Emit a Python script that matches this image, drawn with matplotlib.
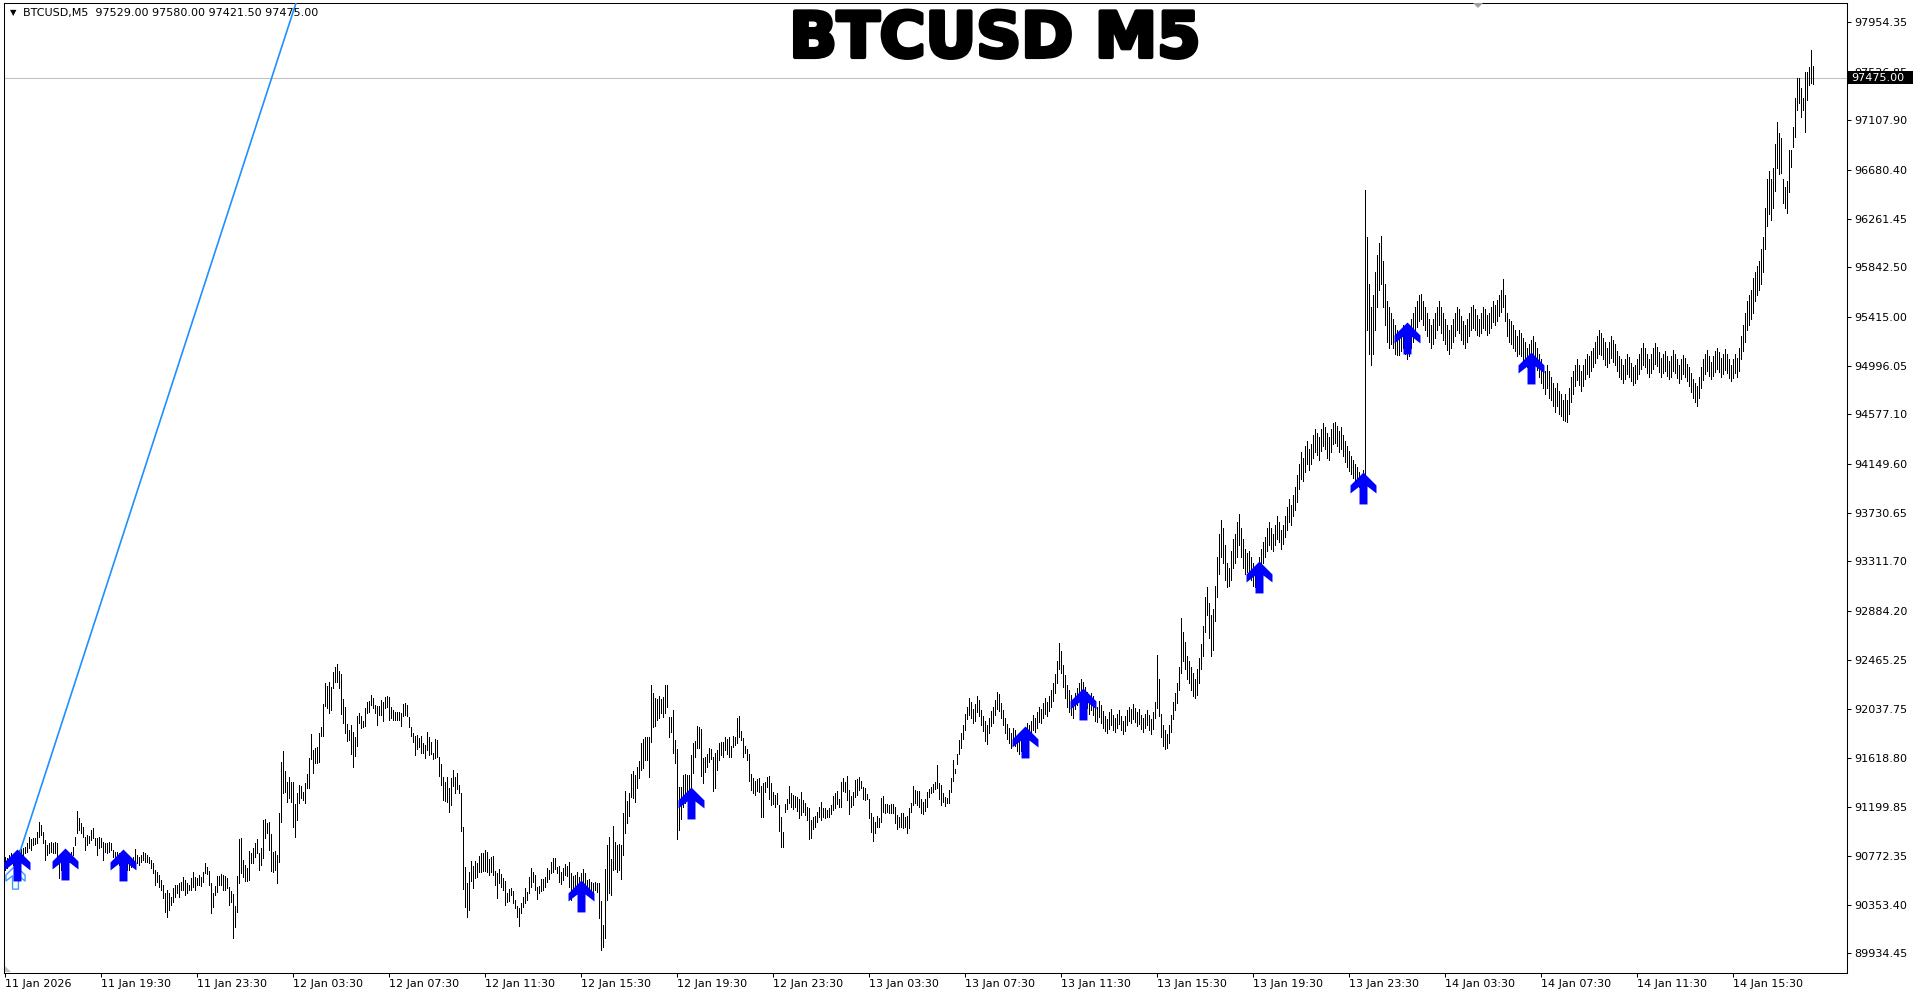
import numpy as np
import matplotlib.pyplot as plt
import matplotlib.transforms as mtransforms
import matplotlib.patheffects as pe
from matplotlib.path import Path
from matplotlib.patches import Rectangle, Polygon

# bar highs / lows (M5 bars)
high = [
    90768, 90754, 90782, 90797, 90782, 90797, 90811, 90825, 90831, 90840,
    90854, 90883, 90940, 90917, 90926, 90932, 90983, 91064, 91041, 90983,
    90912, 90868, 90883, 90897, 90889, 90897, 90883, 90782, 90797, 90797,
    90811, 90774, 90797, 90811, 90854, 90940, 91161, 91098, 91055, 91026,
    90940, 90955, 90946, 90998, 91012, 90926, 90926, 90940, 90926, 90897,
    90883, 90883, 90897, 90883, 90825, 90811, 90811, 90797, 90797, 90782,
    90782, 90768, 90739, 90754, 90768, 90831, 90782, 90768, 90782, 90811,
    90797, 90782, 90768, 90739, 90711, 90653, 90639, 90610, 90567, 90524,
    90452, 90481, 90452, 90424, 90495, 90524, 90524, 90538, 90553, 90596,
    90567, 90538, 90524, 90581, 90639, 90596, 90581, 90610,
    90590, 90639, 90711, 90682, 90648, 90538, 90452, 90516, 90602, 90602,
    90619, 90610, 90602, 90582, 90510, 90475, 90447, 90343, 90602, 90917,
    90926, 90739, 90696, 90668, 90820, 90803, 90840, 90889, 90917, 90803,
    90840, 91084, 91090, 91055, 91070, 90963, 90811, 90820, 90782, 91141,
    91586, 91681, 91509, 91414, 91451, 91414, 91414, 91222, 91313, 91385,
    91377, 91328, 91405, 91480, 91615, 91824, 91687, 91701, 91715, 91836,
    91882, 92083, 92266, 92238, 92275, 92226, 92361, 92404, 92427, 92370,
    92341, 92123, 92060, 91910, 91859, 91902, 91844, 91796, 91979, 92008,
    91979, 91939, 92045, 92103, 92111, 92160, 92131, 92074, 92065, 92065,
    92117, 92103, 92146, 92151, 92146, 92054, 92031, 92017, 92017, 92017,
    92002, 92082, 92088, 92074, 91967, 91887, 91835, 91807, 91815, 91787,
    91807, 91743, 91729, 91844, 91801, 91758, 91657, 91778, 91772, 91623,
    91566, 91451, 91413, 91451, 91356, 91442, 91514, 91456, 91485, 91385,
    91319, 91026, 90682, 90544, 90639, 90733, 90687, 90733, 90710, 90773,
    90796, 90802, 90825, 90811, 90745, 90762, 90773, 90647, 90624, 90659,
    90618, 90581, 90561, 90452, 90486, 90495, 90475, 90395, 90343, 90323,
    90372, 90418, 90495, 90466, 90590, 90667, 90639, 90610, 90509, 90515,
    90572, 90572, 90595, 90667, 90653, 90725, 90753, 90753, 90682, 90687,
    90639, 90667, 90705, 90687, 90725, 90624, 90601, 90610, 90639, 90595,
    90624, 90659, 90624, 90567, 90572, 90552, 90538, 90552, 90544, 90544,
    90389, 90179, 90659, 90868, 90934, 90745, 91032, 90897, 90868, 90877,
    90868, 91141, 91336, 91250, 91319, 91479, 91508, 91471, 91537, 91594,
    91743, 91778, 91795, 91795, 91795, 92246, 92174, 92131, 92122, 92151,
    92122, 92140, 92246, 92246, 91973, 91967, 92030, 91772, 91692, 91365,
    91365, 91471, 91479, 91471, 91471, 91643, 91749, 91766, 91893, 91881,
    91864, 91614, 91623, 91652, 91700, 91692, 91623, 91657, 91686, 91749,
    91758, 91758, 91801, 91778, 91795, 91721, 91807, 91795, 91959, 91979,
    91853, 91787, 91721, 91692, 91652, 91479, 91442, 91422, 91434, 91442,
    91376, 91405, 91413, 91451, 91462, 91399, 91327, 91299, 91319, 91213,
    91112, 90983, 91221, 91261, 91376, 91319, 91299, 91290, 91279, 91261,
    91328, 91256, 91233, 91199, 91185, 91084, 91107, 91119, 91156, 91199,
    91242, 91185, 91185, 91170, 91185, 91213, 91291, 91320, 91337, 91262,
    91414, 91443, 91414, 91463, 91343, 91291, 91328, 91429, 91434, 91452,
    91423, 91371, 91357, 91308, 91262, 91142, 91107, 91070, 91119, 91099,
    91271, 91291, 91222, 91222, 91213, 91222, 91222, 91199, 91127, 91107,
    91147, 91147, 91107, 91119, 91185, 91233, 91377, 91343, 91337, 91337,
    91262, 91242, 91262, 91328, 91348, 91371, 91394, 91414, 91558, 91406,
    91386, 91314, 91279, 91271, 91343, 91443, 91601, 91520, 91652, 91773,
    91830, 91900, 92000, 92060, 92130, 92100, 92040, 92080, 92150, 92120,
    92030, 91980, 91940, 91900, 91960, 92020, 92060, 92120, 92190, 92170,
    92090, 92030, 91960, 91910, 91880, 91830, 91880, 91860, 91800, 91760,
    91800, 91850, 91880, 91920, 91900, 91940, 91990, 91960, 92010, 92060,
    92040, 92090, 92130, 92100, 92150, 92200, 92260, 92340, 92450, 92612,
    92540, 92420, 92330, 92250, 92200, 92160, 92120, 92180, 92220, 92260,
    92300, 92270, 92230, 92190, 92140, 92180, 92150, 92090, 92060, 92110,
    92070, 92020, 91980, 91950, 92010, 92040, 91990, 91960, 92000, 92030,
    91980, 91940, 91980, 92030, 92060, 92040, 92080, 92050, 92010, 92040,
    91990, 91960, 92000, 92030, 91990, 91950, 92010, 92100, 92507, 92300,
    92000, 91900, 91860, 91820, 91900, 91990, 92100, 92180, 92260, 92400,
    92823, 92700, 92620, 92500, 92450, 92400, 92350, 92300, 92380, 92480,
    92600, 92750, 93000, 93086, 92950, 92850, 92900, 93100, 93350, 93550,
    93666, 93600, 93450, 93300, 93250, 93400, 93500, 93550, 93650, 93719,
    93600, 93500, 93420, 93380, 93400, 93350, 93300, 93250, 93280, 93350,
    93420, 93480, 93520, 93600, 93650, 93600, 93550, 93620, 93700, 93650,
    93580, 93620, 93700, 93780, 93850, 93800, 93880, 93950, 94050, 94150,
    94250, 94200, 94300, 94351, 94280, 94320, 94400, 94450, 94420, 94380,
    94450, 94500, 94470, 94420, 94380, 94450, 94500, 94509, 94480, 94430,
    94470, 94400, 94350, 94300, 94260, 94220, 94180, 94150, 94120, 94080,
    94050, 94100, 96511, 96100, 95700, 95500, 95600, 95800, 95950, 96050,
    96110, 95900, 95700, 95550, 95500, 95450, 95400, 95350, 95300, 95250,
    95300, 95350, 95300, 95250, 95300, 95400, 95450, 95500, 95550, 95600,
    95615, 95550, 95500, 95450, 95400, 95350, 95400, 95450, 95500, 95550,
    95500, 95450, 95400, 95350, 95300, 95350, 95400, 95450, 95500, 95480,
    95420, 95380, 95350, 95400, 95450, 95500, 95520, 95480, 95430, 95400,
    95450, 95500, 95480, 95430, 95450, 95500, 95550, 95520, 95560, 95600,
    95650, 95742, 95600, 95450, 95400, 95380, 95350, 95300, 95250, 95300,
    95280, 95230, 95200, 95150, 95180, 95220, 95250, 95200, 95150, 95100,
    95050, 95000, 94950, 95000, 94950, 94900, 94850, 94800, 94850, 94780,
    94750, 94700, 94750, 94700, 94800, 94900, 94950, 95000, 95050, 95000,
    94950, 95000, 95050, 95100, 95080, 95120, 95150, 95200, 95250, 95300,
    95280, 95230, 95200, 95150, 95200, 95250, 95220, 95180, 95120, 95080,
    95050, 95000, 95050, 95100, 95070, 95020, 94980, 95000, 95050, 95100,
    95150, 95190, 95150, 95100, 95050, 95100, 95150, 95190, 95160, 95110,
    95060, 95100, 95120, 95080, 95040, 95080, 95130, 95100, 95050, 95000,
    95050, 95090, 95060, 95010, 94980, 94930, 94880, 94850, 94820, 94900,
    94980, 95050, 95100, 95130, 95080, 95030, 95080, 95120, 95150, 95110,
    95060, 95100, 95140, 95100, 95050, 95000, 95050, 95100, 95060, 95150,
    95250, 95350, 95450, 95550, 95600, 95650, 95750, 95800, 95850, 95900,
    96000, 96100, 96350, 96600, 96669, 96600, 96700, 96900, 97090, 97000,
    96955, 96600, 96530, 96583, 96853, 96853, 97051, 97300, 97472, 97472,
    97386, 97300, 97524, 97524, 97567, 97713, 97580,
]
low = [
    90653, 90668, 90696, 90711, 90696, 90725, 90739, 90754, 90768, 90782,
    90797, 90811, 90840, 90825, 90868, 90874, 90889, 90940, 90955, 90883,
    90739, 90782, 90797, 90811, 90797, 90802, 90768, 90581, 90653, 90711,
    90739, 90725, 90725, 90739, 90782, 90868, 90969, 90998, 90969, 90940,
    90825, 90868, 90883, 90912, 90926, 90868, 90782, 90840, 90854, 90739,
    90811, 90797, 90811, 90825, 90768, 90725, 90711, 90696, 90711, 90696,
    90682, 90653, 90653, 90682, 90696, 90725, 90711, 90696, 90725, 90739,
    90725, 90725, 90711, 90668, 90625, 90524, 90553, 90510, 90481, 90409,
    90294, 90251, 90309, 90352, 90381, 90424, 90452, 90424, 90481, 90481,
    90438, 90452, 90481, 90481, 90510, 90481, 90524, 90524,
    90516, 90553, 90630, 90619, 90524, 90280, 90332, 90438, 90467, 90524,
    90524, 90481, 90481, 90495, 90352, 90381, 90065, 90160, 90295, 90538,
    90630, 90596, 90561, 90561, 90567, 90711, 90711, 90768, 90797, 90653,
    90696, 90754, 90926, 90969, 90826, 90648, 90639, 90653, 90538, 90725,
    91070, 91319, 91328, 91242, 91270, 91242, 91021, 90935, 91084, 91227,
    91270, 91256, 91227, 91356, 91356, 91606, 91486, 91572, 91577, 91586,
    91807, 91807, 92065, 92045, 92002, 92031, 92217, 92275, 92275, 92217,
    91996, 91922, 91836, 91767, 91773, 91652, 91537, 91635, 91721, 91916,
    91873, 91882, 91893, 92002, 92017, 92074, 92045, 92008, 91902, 91988,
    91988, 91939, 92045, 92060, 91945, 91959, 91945, 91945, 91945, 91945,
    91893, 91979, 91987, 91979, 91887, 91807, 91758, 91643, 91692, 91709,
    91663, 91657, 91614, 91686, 91643, 91652, 91606, 91614, 91629, 91462,
    91385, 91256, 91250, 91241, 91155, 91213, 91376, 91313, 91347, 91313,
    90992, 90486, 90331, 90251, 90309, 90561, 90495, 90581, 90590, 90639,
    90639, 90647, 90647, 90639, 90610, 90639, 90610, 90524, 90409, 90544,
    90509, 90481, 90352, 90380, 90389, 90438, 90372, 90323, 90251, 90171,
    90280, 90331, 90372, 90395, 90452, 90509, 90552, 90481, 90406, 90452,
    90475, 90481, 90509, 90552, 90572, 90624, 90639, 90659, 90624, 90552,
    90532, 90567, 90610, 90601, 90509, 90395, 90452, 90481, 90509, 90481,
    90509, 90552, 90509, 90466, 90452, 90481, 90466, 90481, 90466, 90237,
    89964, 89987, 90065, 90395, 90452, 90438, 90653, 90659, 90639, 90653,
    90573, 90782, 90974, 91055, 91118, 91279, 91270, 91241, 91356, 91442,
    91514, 91528, 91600, 91600, 91456, 91758, 91887, 91893, 91944, 91959,
    92002, 91973, 92002, 92059, 91795, 91844, 91663, 91571, 90917, 90997,
    91089, 91198, 91227, 91256, 91284, 91356, 91485, 91629, 91700, 91700,
    91462, 91405, 91500, 91537, 91586, 91606, 91336, 91356, 91514, 91600,
    91643, 91629, 91686, 91652, 91629, 91629, 91709, 91729, 91743, 91801,
    91772, 91629, 91657, 91600, 91422, 91342, 91313, 91299, 91336, 91327,
    91112, 91106, 91327, 91370, 91261, 91213, 91221, 91192, 91221, 90990,
    90848, 90848, 91155, 91175, 91227, 91198, 91175, 91198, 91164, 91098,
    91127, 91156, 91127, 91084, 90918, 90926, 91004, 91027, 91070, 91107,
    91084, 91107, 91099, 91113, 91107, 91136, 91170, 91185, 91222, 91193,
    91193, 91337, 91328, 91256, 91136, 91193, 91213, 91285, 91299, 91343,
    91357, 91262, 91256, 91262, 91099, 90984, 90906, 90975, 91021, 91021,
    91070, 91156, 91147, 91156, 91147, 91147, 91142, 91055, 91004, 91021,
    91021, 91012, 91021, 90975, 91012, 91156, 91213, 91228, 91213, 91199,
    91147, 91136, 91165, 91199, 91285, 91314, 91328, 91348, 91357, 91262,
    91213, 91242, 91205, 91233, 91233, 91328, 91423, 91486, 91566, 91652,
    91700, 91780, 91860, 91950, 91990, 91960, 91920, 91940, 92010, 91980,
    91900, 91850, 91760, 91740, 91830, 91890, 91920, 91990, 92040, 92020,
    91960, 91900, 91830, 91780, 91750, 91700, 91760, 91720, 91680, 91650,
    91680, 91730, 91760, 91800, 91780, 91820, 91860, 91840, 91880, 91930,
    91920, 91960, 92000, 91980, 92020, 92060, 92110, 92180, 92260, 92380,
    92350, 92230, 92130, 92060, 92010, 91990, 91960, 92040, 92070, 92110,
    92150, 92120, 92090, 92050, 92000, 92030, 91990, 91940, 91930, 91970,
    91920, 91880, 91850, 91830, 91870, 91900, 91860, 91840, 91880, 91910,
    91860, 91820, 91850, 91900, 91940, 91920, 91950, 91930, 91890, 91910,
    91870, 91840, 91880, 91900, 91860, 91820, 91870, 91960, 92050, 91980,
    91800, 91720, 91695, 91700, 91750, 91840, 91950, 92030, 92090, 92200,
    92350, 92450, 92380, 92300, 92260, 92200, 92150, 92130, 92160, 92260,
    92380, 92500, 92700, 92850, 92650, 92500, 92550, 92800, 93000, 93200,
    93350, 93300, 93150, 93086, 93100, 93150, 93250, 93300, 93350, 93450,
    93350, 93250, 93200, 93220, 93200, 93150, 93100, 93090, 93120, 93180,
    93230, 93300, 93350, 93400, 93450, 93420, 93400, 93450, 93500, 93480,
    93420, 93460, 93520, 93580, 93650, 93620, 93700, 93750, 93820, 93930,
    94020, 94000, 94080, 94150, 94100, 94150, 94200, 94250, 94230, 94180,
    94260, 94300, 94280, 94200, 94180, 94250, 94320, 94330, 94300, 94250,
    94280, 94220, 94170, 94120, 94090, 94060, 94030, 94000, 93980, 93950,
    93930, 93940, 94050, 95300, 95100, 95000, 95100, 95300, 95500, 95650,
    95700, 95500, 95350, 95200, 95150, 95180, 95150, 95100, 95088, 95090,
    95120, 95150, 95100, 95050, 95080, 95150, 95200, 95280, 95330, 95380,
    95400, 95350, 95300, 95250, 95200, 95150, 95180, 95230, 95300, 95350,
    95280, 95220, 95180, 95130, 95100, 95150, 95200, 95250, 95300, 95280,
    95220, 95180, 95150, 95200, 95250, 95300, 95320, 95300, 95260, 95250,
    95280, 95320, 95300, 95260, 95280, 95320, 95370, 95350, 95380, 95420,
    95460, 95500, 95380, 95250, 95200, 95180, 95150, 95120, 95080, 95100,
    95080, 95040, 95000, 94980, 95000, 95040, 95080, 95020, 94960, 94900,
    94850, 94800, 94750, 94800, 94720, 94700, 94650, 94600, 94650, 94580,
    94560, 94530, 94520, 94509, 94580, 94680, 94750, 94820, 94870, 94830,
    94780, 94820, 94880, 94920, 94900, 94950, 94980, 95020, 95060, 95100,
    95090, 95050, 95000, 94980, 95020, 95060, 95030, 95000, 94950, 94900,
    94880, 94850, 94880, 94920, 94900, 94860, 94830, 94850, 94880, 94920,
    94970, 95000, 94980, 94930, 94900, 94930, 94970, 95010, 94990, 94940,
    94900, 94930, 94950, 94910, 94880, 94900, 94950, 94930, 94890, 94850,
    94880, 94920, 94900, 94860, 94820, 94770, 94720, 94680, 94650, 94720,
    94800, 94870, 94920, 94950, 94910, 94880, 94910, 94940, 94970, 94940,
    94900, 94920, 94960, 94930, 94890, 94860, 94890, 94930, 94900, 94950,
    95050, 95120, 95200, 95300, 95350, 95400, 95450, 95550, 95600, 95650,
    95700, 95800, 96000, 96200, 96300, 96250, 96350, 96500, 96700, 96650,
    96654, 96400, 96350, 96310, 96491, 96706, 96878, 96965, 97197, 97257,
    97137, 97197, 97008, 97283, 97412, 97429, 97421,
]

time_labels = ['11 Jan 2026', '11 Jan 19:30', '11 Jan 23:30', '12 Jan 03:30',
               '12 Jan 07:30', '12 Jan 11:30', '12 Jan 15:30', '12 Jan 19:30',
               '12 Jan 23:30', '13 Jan 03:30', '13 Jan 07:30', '13 Jan 11:30',
               '13 Jan 15:30', '13 Jan 19:30', '13 Jan 23:30', '14 Jan 03:30',
               '14 Jan 07:30', '14 Jan 11:30', '14 Jan 15:30']
bars_per_label = 48

price_ticks = [97954.35, 97526.85, 97107.90, 96680.40, 96261.45, 95842.50,
               95415.00, 94996.05, 94577.10, 94149.60, 93730.65, 93311.70,
               92884.20, 92465.25, 92037.75, 91618.80, 91199.85, 90772.35,
               90353.40, 89934.45]

# signal arrows: bar index and price at arrow tip
arrow_bar = [6, 30, 59, 288, 343, 510, 539, 627, 679, 701, 763]
arrow_price = [90832, 90840, 90832, 90567, 91371, 91896, 92220, 93318, 94077, 95373, 95110]
hollow_bar = [5]
hollow_price = [90696]

trend_bar = [4, 150]
trend_price = [90627, 98356]

last_price = 97475.00
header = 'BTCUSD,M5  97529.00 97580.00 97421.50 97475.00'

W, H = 1919, 996
fig = plt.figure(figsize=(W / 100, H / 100), dpi=100)
ax = fig.add_axes([4 / W, 23 / H, 1843 / W, 970 / H])

x = np.arange(len(high))
ax.vlines(x, low, high, colors='black', linewidth=0.6, antialiased=False, zorder=3)

ax.axhline(last_price, color='#C0C0C0', lw=0.75, zorder=2)
ax.plot(trend_bar, trend_price, color='#1E90FF', lw=1.2, zorder=4)

verts = [(0, 0), (13, -13), (13, -21), (4, -14), (4, -32), (-4, -32),
         (-4, -14), (-13, -21), (-13, -13), (0, 0)]
arrow = Path(verts, [Path.MOVETO] + [Path.LINETO] * 8 + [Path.CLOSEPOLY])
ax.plot(hollow_bar, hollow_price, ls='none', marker=arrow, ms=34,
        mfc='white', mec='#3C9CFF', mew=1, zorder=4)
ax.plot(arrow_bar, arrow_price, ls='none', marker=arrow, ms=46,
        color='#0000FF', mew=0, zorder=5)

ax.set_xlim(-0.5, 921)
ax.set_ylim(89766.5, 98118.2)

ax.yaxis.tick_right()
ax.set_yticks(price_ticks)
ax.set_yticklabels([f'{v:.2f}' for v in price_ticks])
ax.set_xticks(np.arange(len(time_labels)) * bars_per_label)
ax.set_xticklabels(time_labels, ha='left')
ax.tick_params(axis='both', direction='out', length=3, width=0.75,
               labelsize=8, colors='black')
ax.tick_params(axis='y', pad=2)
ax.tick_params(axis='x', pad=1.5)
for s in ax.spines.values():
    s.set_linewidth(0.75)
    s.set_color('black')

# current price box on the price scale
trans = mtransforms.blended_transform_factory(ax.transAxes, ax.transData)
ax.add_patch(Rectangle((1.0005, last_price - 56), 65 / 1843, 112, transform=trans,
                       facecolor='black', edgecolor='none', clip_on=False, zorder=6))
ax.text(1.0005 + 3 / 1843, last_price, f'{last_price:.2f}', transform=trans,
        color='white', fontsize=8, ha='left', va='center', clip_on=False, zorder=7)

fig.text(10 / W, 1 - 13 / H, '▼', fontsize=6, ha='left', va='center')
fig.text(23 / W, 1 - 13 / H, header, fontsize=8, ha='left', va='center')
fig.text(995 / W, 1 - 40 / H, 'BTCUSD M5', fontsize=45, fontweight='bold',
         ha='center', va='center',
         path_effects=[pe.withStroke(linewidth=3, foreground='black')])

fig.patches.append(Polygon([(1473 / W, 1 - 3 / H), (1483 / W, 1 - 3 / H), (1478 / W, 1 - 8 / H)],
                           closed=True, transform=fig.transFigure, facecolor='#A0A0A0',
                           edgecolor='none'))
fig.patches.append(Polygon([(5 / W, 1 - 966 / H), (5 / W, 1 - 972 / H), (11 / W, 1 - 972 / H)],
                           closed=True, transform=fig.transFigure, facecolor='#C0C0C0',
                           edgecolor='none'))

fig.savefig('out.png', dpi=100)
